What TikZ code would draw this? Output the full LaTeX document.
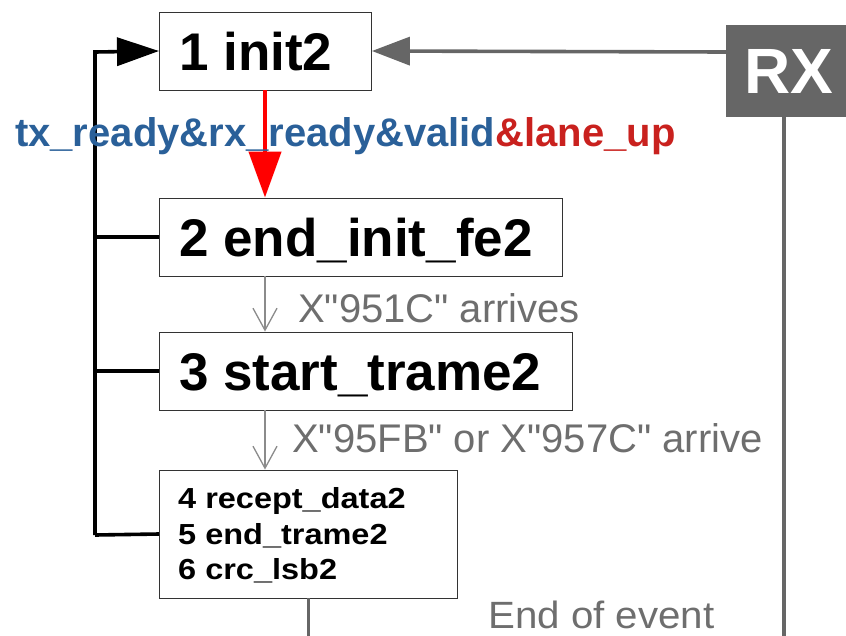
\documentclass[tikz,border=0pt]{standalone}
\usepackage{fontspec}
\setmainfont{Liberation Sans}
\newfontfamily\plainsans[Ligatures=TeXOff]{Liberation Sans}
\newfontfamily\widesans[FakeStretch=1.12,Ligatures=TeXOff]{Liberation Sans}
\newfontfamily\widersans[FakeStretch=1.06,Ligatures=TeXOff]{Liberation Sans}
\usetikzlibrary{arrows.meta}
\definecolor{condblue}{HTML}{2A6099}
\definecolor{condred}{HTML}{C9211E}
\definecolor{lblgray}{HTML}{6E6E6E}
\definecolor{rxgray}{HTML}{666666}
\tikzset{
  state/.style={draw=black!80, line width=0.9pt, fill=white, inner sep=0pt, anchor=west},
  statetext/.style={anchor=base west, inner sep=0pt, font=\fontsize{53}{60}\selectfont\bfseries},
  substate/.style={anchor=base west, inner sep=0pt, font=\widesans\bfseries\fontsize{29}{35}\selectfont},
  loopline/.style={line width=3.6pt, black},
  rxline/.style={line width=3.6pt, rxgray},
  evarrow/.style={line width=1.3pt, lblgray!80, -{Straight Barb[length=22pt,width=24pt,line width=1.3pt]}},
  evlabel/.style={anchor=base west, inner sep=0pt, text=lblgray, font=\plainsans\fontsize{40}{46}\selectfont},
}
\begin{document}
\begin{tikzpicture}[x=1pt,y=-1pt]
\useasboundingbox (0,0) rectangle (846,635);

% state boxes
\node[state, minimum width=212pt, minimum height=78pt] (s1) at (159,51) {};
\node[state, minimum width=403pt, minimum height=78pt] (s2) at (159,237) {};
\node[state, minimum width=413pt, minimum height=78pt] (s3) at (159,371) {};
\node[state, minimum width=298pt, minimum height=128pt] (s4) at (159,534) {};

% state names
\node[statetext] (t1) at (179,70) {1 init2};
\node[statetext] (t2) at (179,256) {2 end\_init\_fe2};
\node[statetext] (t3) at (179,390) {3 start\_trame2};
\node[substate] (t4a) at (178,508) {4 recept\_data2};
\node[substate] (t4b) at (178,544) {5 end\_trame2};
\node[substate] (t4c) at (178,579) {6 crc\_lsb2};

% RX block
\node[fill=rxgray, text=white, inner sep=0pt, minimum width=140pt, minimum height=92pt,
      font=\bfseries\fontsize{64}{70}\selectfont] (rx) at (796,71) {\hspace*{-14pt}RX};
\coordinate (rxbot) at (784,117);
\coordinate (rxend) at (784,640);
\draw[rxline] (rxbot) -- (rxend);
\coordinate (rxout) at (726,52);
\draw[rxline, -{Triangle[length=38pt,width=28pt]}] (rxout) -- (s1.east);

% loop back to init
\coordinate (lt) at (95,52);
\coordinate (lb) at (95,535);
\draw[loopline, -{Triangle[length=42pt,width=28pt]}] (lb) -- (lt) -- (s1.west);
\draw[loopline] (95,237) -- (s2.west);
\draw[loopline] (95,371) -- (s3.west);
\draw[loopline] (lb) -- (s4.west);

% column of the forward transitions
\coordinate (col) at (265,0);

% init -> end_init
\draw[line width=4.5pt, red, -{Triangle[length=46pt,width=32pt]}] (s1.south -| col) -- (s2.north -| col);
\node[anchor=base west, inner sep=0pt, font=\bfseries\fontsize{40}{46}\selectfont] (cond) at (15,146)
  {\textcolor{condblue}{tx\_ready\&rx\_ready\&valid}\textcolor{condred}{\&lane\_up}};

% event transitions
\draw[evarrow] (s2.south -| col) -- (s3.north -| col);
\node[evlabel] (e1) at (298,322) {X"951C" arrives};
\draw[evarrow] (s3.south -| col) -- (s4.north -| col);
\node[evlabel] (e2) at (292,452) {X"95FB" or X"957C" arrive};

% end of event
\coordinate (s4end) at (308,640);
\draw[rxline, line width=3pt] (s4.south -| s4end) -- (s4end);
\node[anchor=base west, inner sep=0pt, text depth=0pt, text=lblgray, font=\widersans\fontsize{38}{44}\selectfont] (eoe) at (488,628) {End of event};
\end{tikzpicture}
\end{document}
